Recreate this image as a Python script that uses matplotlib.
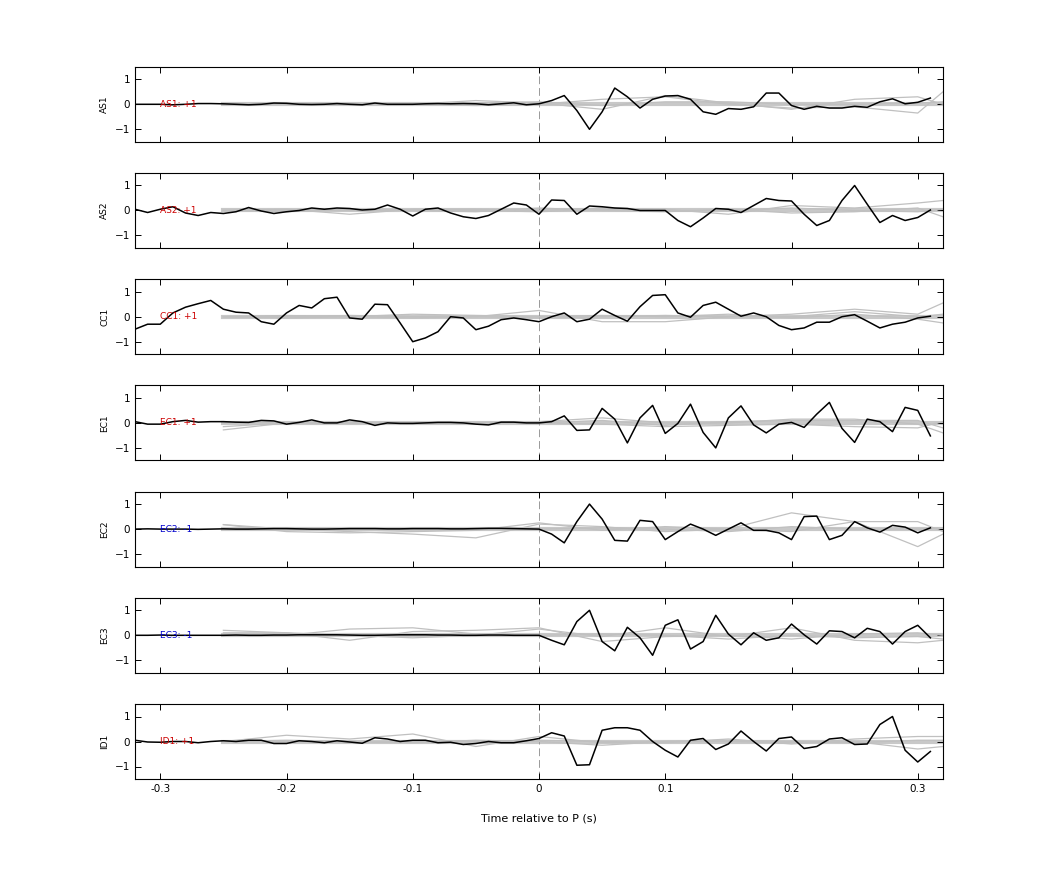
import numpy as np
import matplotlib
matplotlib.use("Agg")
import matplotlib.pyplot as plt

t = np.round(np.arange(-0.32, 0.315, 0.01), 3)
tg = [-0.25, -0.2, -0.15, -0.1, -0.05, 0.0, 0.05, 0.1, 0.15, 0.2, 0.25, 0.3, 0.32]

names = ["AS1", "AS2", "CC1", "EC1", "EC2", "EC3", "ID1"]
labels = ["AS1: +1", "AS2: +1", "CC1: +1", "EC1: +1", "EC2: -1", "EC3: -1", "ID1: +1"]
label_colors = ["#cc0000", "#cc0000", "#cc0000", "#cc0000", "#0000cc", "#0000cc", "#cc0000"]

AS1 = [0, 0, 0, -0.02, 0, 0.03, 0.03, 0.02, 0, -0.02, 0, 0.05, 0.04, 0, -0.01, 0, 0.03, 0, -0.02, 0.05, 0, 0, 0, 0.02, 0.03, 0.02, 0.03, 0.02, -0.02, 0.02, 0.06, -0.02,
       0.02, 0.15, 0.35, -0.25, -1.0, -0.3, 0.65, 0.3, -0.15, 0.2, 0.33, 0.35, 0.2, -0.3, -0.4, -0.17, -0.2, -0.1, 0.45, 0.45,
       -0.05, -0.2, -0.08, -0.15, -0.15, -0.08, -0.12, 0.1, 0.22, 0.02, 0.08, 0.25]
AS2 = [0.05, -0.08, 0.05, 0.15, -0.1, -0.2, -0.08, -0.12, -0.05, 0.12, -0.02, -0.12, -0.05, 0.0, 0.1, 0.05, 0.1, 0.08, 0.02, 0.05, 0.22, 0.05, -0.22, 0.05, 0.1, -0.1, -0.25, -0.32, -0.2, 0.05, 0.3, 0.22,
       -0.15, 0.42, 0.4, -0.15, 0.18, 0.15, 0.1, 0.08, 0.0, 0.0, 0.0, -0.4, -0.65, -0.3, 0.08, 0.05, -0.08, 0.2, 0.48, 0.4,
       0.38, -0.15, -0.6, -0.4, 0.4, 1.0, 0.25, -0.48, -0.2, -0.4, -0.28, 0.02]
CC1 = [-0.5, -0.3, -0.3, 0.15, 0.38, 0.52, 0.65, 0.3, 0.18, 0.15, -0.2, -0.3, 0.15, 0.45, 0.35, 0.72, 0.78, -0.05, -0.1, 0.5, 0.48, -0.25, -1.0, -0.85, -0.6, 0.0, -0.05, -0.52, -0.38, -0.12, -0.05, -0.12,
       -0.2, 0.0, 0.15, -0.2, -0.1, 0.3, 0.05, -0.18, 0.4, 0.85, 0.88, 0.15, -0.02, 0.45, 0.58, 0.3, 0.02, 0.15, 0.0, -0.35,
       -0.52, -0.45, -0.22, -0.22, 0.0, 0.08, -0.18, -0.45, -0.3, -0.22, -0.05, 0.02]
EC1 = [0.05, -0.05, -0.05, 0.05, 0.1, 0.03, 0.05, 0.05, 0.03, 0.02, 0.1, 0.08, -0.05, 0.02, 0.12, 0.0, 0.0, 0.12, 0.05, -0.1, 0.0, -0.02, -0.02, 0.0, 0.02, 0.02, 0.0, -0.05, -0.08, 0.03, 0.03, 0.0,
       0.0, 0.05, 0.28, -0.3, -0.28, 0.58, 0.15, -0.8, 0.2, 0.7, -0.42, -0.02, 0.75, -0.38, -1.0, 0.2, 0.68, -0.08, -0.4, -0.05,
       0.02, -0.18, 0.35, 0.82, -0.22, -0.78, 0.15, 0.05, -0.35, 0.62, 0.5, -0.52]
EC2 = [0.0, 0.01, 0.0, 0.0, 0.0, -0.01, 0.0, 0.01, 0.0, 0.0, 0.01, 0.02, 0.02, 0.01, 0.0, 0.0, 0.01, 0.02, 0.02, 0.02, 0.01, 0.01, 0.02, 0.02, 0.02, 0.01, 0.01, 0.02, 0.03, 0.03, 0.02, 0.01,
       0.0, -0.2, -0.55, 0.3, 1.0, 0.4, -0.45, -0.48, 0.35, 0.3, -0.42, -0.1, 0.2, 0.0, -0.25, 0.0, 0.25, -0.05, -0.05, -0.15,
       -0.42, 0.5, 0.52, -0.42, -0.25, 0.3, 0.05, -0.12, 0.15, 0.08, -0.15, 0.05]
EC3 = [0.0, 0.0, 0.01, 0.0, 0.0, 0.0, 0.0, 0.0, 0.01, 0.0, 0.0, 0.01, 0.01, 0.02, 0.02, 0.02, 0.02, 0.01, 0.0, 0.0, 0.01, 0.02, 0.02, 0.02, 0.01, 0.01, 0.0, 0.0, 0.01, 0.01, 0.0, 0.0,
       0.0, -0.2, -0.38, 0.55, 1.0, -0.25, -0.62, 0.32, -0.1, -0.8, 0.4, 0.62, -0.55, -0.25, 0.8, 0.05, -0.38, 0.1, -0.2, -0.1,
       0.45, 0.02, -0.35, 0.18, 0.15, -0.1, 0.28, 0.15, -0.35, 0.15, 0.4, -0.1]
ID1 = [0.05, -0.02, -0.03, 0.0, 0.0, -0.05, 0.0, 0.03, 0.0, 0.05, 0.05, -0.08, -0.08, 0.03, 0.0, -0.05, 0.03, -0.02, -0.07, 0.15, 0.1, 0.0, 0.05, 0.05, -0.05, -0.03, -0.12, -0.08, 0.0, -0.05, -0.05, 0.03,
       0.12, 0.35, 0.22, -0.95, -0.93, 0.45, 0.55, 0.55, 0.45, 0.0, -0.35, -0.62, 0.05, 0.12, -0.32, -0.1, 0.42, 0.0, -0.38, 0.12,
       0.18, -0.28, -0.2, 0.1, 0.15, -0.12, -0.1, 0.68, 1.0, -0.35, -0.82, -0.4]
black = [AS1, AS2, CC1, EC1, EC2, EC3, ID1]

# gray reference traces (sampled at tg)
gray = [
    [[0.0, 0.0, 0.02, 0.0, 0.15, 0.05, -0.2, 0.35, 0.05, -0.2, 0.2, 0.3, 0.0],
     [0.0, 0.0, -0.02, 0.0, -0.05, 0.0, 0.2, 0.3, 0.0, -0.15, -0.1, -0.35, 0.5],
     [0.0, 0.0, 0.0, 0.02, 0.05, 0.1, -0.05, 0.1, 0.1, 0.0, 0.0, 0.05, 0.1]],
    [[0.0, 0.05, -0.15, 0.05, 0.05, 0.0, 0.1, 0.05, -0.15, 0.2, 0.1, 0.3, 0.4],
     [0.0, -0.05, 0.05, 0.0, -0.05, 0.1, 0.0, -0.05, 0.05, -0.1, -0.05, 0.1, -0.25],
     [0.0, 0.02, 0.0, 0.02, 0.0, -0.05, 0.05, 0.0, 0.0, 0.1, 0.0, -0.05, 0.05]],
    [[0.0, 0.0, 0.05, 0.0, 0.0, 0.25, -0.2, -0.2, 0.0, 0.1, 0.3, 0.1, 0.55],
     [0.0, 0.05, 0.0, 0.1, 0.05, 0.0, 0.05, 0.0, 0.1, -0.05, 0.1, -0.1, -0.25],
     [0.0, -0.05, 0.0, -0.05, 0.0, -0.05, 0.0, 0.05, 0.0, 0.0, 0.2, 0.0, 0.1]],
    [[-0.28, 0.0, 0.05, -0.05, 0.0, 0.05, 0.2, 0.0, 0.0, 0.15, 0.15, -0.05, -0.4],
     [-0.15, 0.0, -0.02, 0.0, -0.05, 0.0, 0.1, -0.1, 0.05, 0.1, 0.1, 0.1, -0.2],
     [0.0, 0.02, 0.0, 0.0, 0.02, 0.0, -0.05, -0.15, -0.1, -0.05, -0.15, -0.2, 0.05]],
    [[0.18, 0.0, -0.1, -0.2, -0.35, 0.2, 0.1, -0.1, 0.0, 0.65, 0.3, -0.7, -0.2],
     [0.18, -0.1, -0.15, -0.1, -0.05, 0.25, -0.05, 0.1, 0.0, -0.1, 0.3, 0.3, -0.1],
     [0.0, 0.05, 0.0, 0.0, 0.0, 0.0, 0.05, 0.0, -0.1, 0.1, 0.0, 0.0, 0.05]],
    [[0.2, 0.1, 0.0, -0.1, 0.0, 0.25, -0.05, 0.3, -0.05, 0.3, -0.2, -0.3, -0.2],
     [0.1, 0.1, -0.2, 0.15, 0.2, 0.3, -0.25, -0.05, 0.0, -0.15, 0.05, 0.1, 0.0],
     [0.0, 0.0, 0.25, 0.3, 0.05, 0.0, 0.05, 0.0, -0.15, 0.0, -0.1, -0.05, -0.15]],
    [[0.0, 0.25, 0.1, 0.3, -0.2, 0.2, -0.05, 0.0, 0.0, -0.05, 0.0, -0.3, -0.2],
     [0.0, 0.0, -0.05, 0.0, 0.0, 0.05, 0.0, -0.05, 0.1, -0.1, 0.1, 0.2, 0.2],
     [0.0, 0.05, 0.0, -0.05, 0.05, 0.0, -0.15, 0.0, 0.05, 0.0, -0.05, 0.05, 0.05]],
]

fig = plt.figure(figsize=(10.42, 8.75), dpi=100)
left, width = 135 / 1042, (943 - 135) / 1042
h = 75 / 875
step = 106.2 / 875
bottom0 = 1 - 779 / 875
for i in range(7):
    b = bottom0 + (6 - i) * step
    ax = fig.add_axes([left, b, width, h])
    ax.plot([-0.25, 0.32], [0, 0], color="#c8c8c8", lw=3, zorder=1)
    for g in gray[i]:
        ax.plot(tg, g, color="#c0c0c0", lw=0.9, zorder=2)
    ax.axvline(0, color="#999999", lw=0.7, ls=(0, (8, 4)), zorder=1)
    ax.plot(t, black[i], color="black", lw=1.1, zorder=3)
    ax.text(-0.3, 0, labels[i], color=label_colors[i], fontsize=6.5, va="center", ha="left", zorder=4)
    ax.set_xlim(-0.32, 0.32)
    ax.set_ylim(-1.5, 1.5)
    ax.set_yticks([-1, 0, 1])
    ax.set_xticks([-0.3, -0.2, -0.1, 0, 0.1, 0.2, 0.3])
    ax.tick_params(direction="in", top=True, right=True, labelsize=7.5, length=4, width=0.7)
    for s in ax.spines.values():
        s.set_linewidth(0.8)
    ax.set_ylabel(names[i], fontsize=6.5)
    if i < 6:
        ax.set_xticklabels([])
    else:
        ax.set_xticklabels(["-0.3", "-0.2", "-0.1", "0", "0.1", "0.2", "0.3"])
        ax.set_xlabel("Time relative to P (s)", fontsize=8, labelpad=14)

fig.savefig("out.png", dpi=100)
